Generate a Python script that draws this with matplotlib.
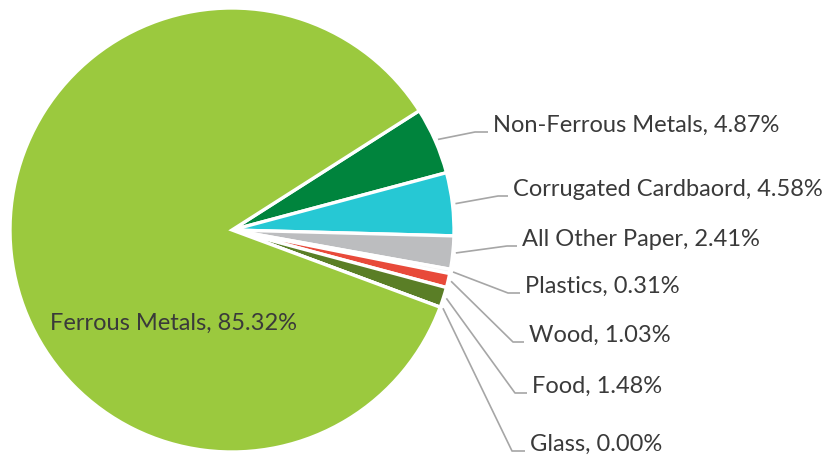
import numpy as np
import matplotlib
matplotlib.use("Agg")
import matplotlib.pyplot as plt

# Waste composition shares (%)
categories = ["Non-Ferrous Metals", "Corrugated Cardbaord", "All Other Paper",
              "Plastics", "Wood", "Food", "Glass", "Ferrous Metals"]
shares = [4.87, 4.58, 2.41, 0.31, 1.03, 1.48, 0.00, 85.32]
colors = ["#00843D", "#26C8D4", "#BCBDBF", "#F4F4F4", "#E84A3A", "#5A7E26",
          "#9BC93E", "#9BC93E"]

W, H = 833, 455
CX, CY, R = 232, 230, 222          # pie centre / radius, pixels from top-left
START = 32.5

# label layout: (elbow x, line y, line end x), pixels from top-left
label_layout = [(475, 132, 488), (498, 196, 508), (507, 246, 517),
                (508, 293, 520), (513, 342, 524), (515, 393, 527),
                (512, 451, 525)]

TXT = "#3A3A3A"
FONT = dict(family="Lato", weight="normal", fontsize=17, color=TXT)

fig = plt.figure(figsize=(W / 100, H / 100), dpi=100)
ax = fig.add_axes([0, 0, 1, 1])

wedges, _ = ax.pie(shares, colors=colors, startangle=START, counterclock=False,
                   center=(CX, H - CY), radius=R,
                   wedgeprops=dict(edgecolor="white", linewidth=2.4))
ax.set_xlim(0, W)
ax.set_ylim(0, H)
ax.set_aspect("equal")
ax.axis("off")

# leader lines + labels for the small slices
for w, name, val, (ex, ly, lx) in zip(wedges[:-1], categories[:-1], shares[:-1],
                                       label_layout):
    mid = np.deg2rad((w.theta1 + w.theta2) / 2)
    sx = CX + (R + 3) * np.cos(mid)
    sy = (H - CY) + (R + 3) * np.sin(mid)
    ax.plot([sx, ex, lx], [sy, H - ly, H - ly], color="#A6A6A6", lw=1.2,
            solid_capstyle="butt")
    ax.text(lx + 5, H - ly, f"{name}, {val:.2f}%", ha="left", va="baseline",
            **FONT)

ax.text(50, H - 330, f"{categories[-1]}, {shares[-1]:.2f}%", ha="left",
        va="baseline", **FONT)

fig.savefig("out.png", dpi=100)
plt.close(fig)
